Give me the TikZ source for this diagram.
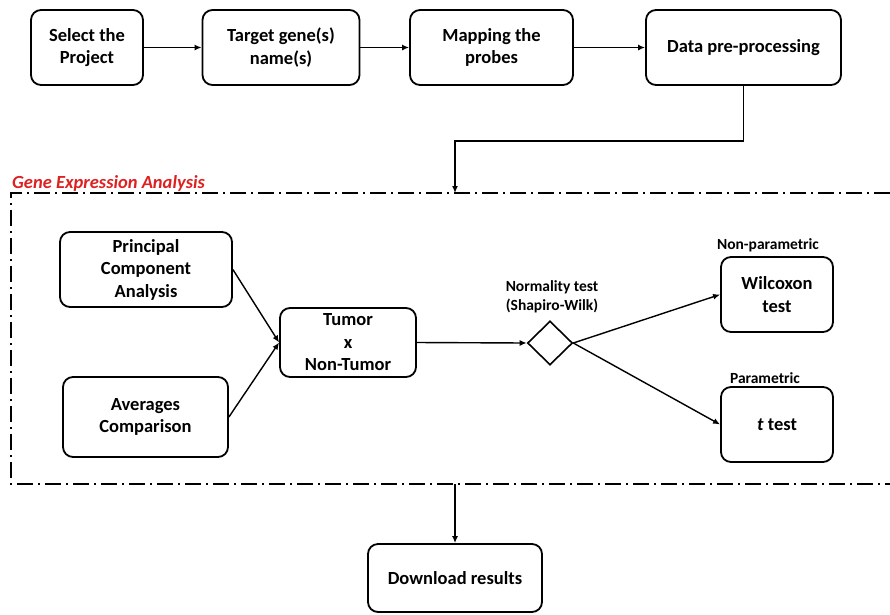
\documentclass[tikz,border=0pt]{standalone}
\usepackage{fontspec}
\setmainfont{Carlito}
\usetikzlibrary{arrows.meta,shapes.geometric}
\definecolor{geared}{RGB}{222,32,32}
\tikzset{
  blk/.style={draw,line width=1.8pt,rounded corners=10pt,align=center,inner sep=0pt,
    font=\bfseries\fontsize{18.5}{22.5}\selectfont},
  arr/.style={line width=1.4pt,-{Latex[length=7pt,width=6pt]}},
  lbl/.style={align=center,inner sep=0pt,font=\bfseries\fontsize{15.5}{19}\selectfont},
  frm/.style={line width=1.4pt,dash pattern=on 16pt off 5pt on 2pt off 5pt}
}

\begin{document}
\begin{tikzpicture}[x=1pt,y=-1pt]
\useasboundingbox (0,0) rectangle (890,614);
% top row
\node[blk,minimum width=112pt,minimum height=75pt] (sel) at (87,47.5) {Select the\\Project};
\node[blk,minimum width=157pt,minimum height=75pt] (tgt) at (281,47.5) {Target gene(s)\\name(s)};
\node[blk,minimum width=163pt,minimum height=75pt] (map) at (491.5,47.5) {Mapping the\\probes};
\node[blk,minimum width=195pt,minimum height=75pt] (pre) at (743.5,47.5) {Data pre-processing};
\draw[arr] (sel.east) -- (tgt.west);
\draw[arr] (tgt.east) -- (map.west);
\draw[arr] (map.east) -- (pre.west);
% analysis frame
\draw[frm] (890,193) -- (11,193) -- (11,484) -- (890,484);
\node[anchor=west,inner sep=0pt,text=geared,font=\bfseries\itshape\fontsize{18.5}{20}\selectfont] (gea) at (12,183) {Gene Expression Analysis};
\coordinate (ftop) at (455,193);
\coordinate (fbot) at (455,484);
\draw[arr] (pre.south) -- ++(0,55) -| (ftop);
% inside
\node[blk,minimum width=172pt,minimum height=75pt] (pca) at (146,269.5) {Principal\\Component\\Analysis};
\node[blk,minimum width=165pt,minimum height=80pt] (avg) at (145.5,417) {Averages\\Comparison};
\node[blk,minimum width=136pt,minimum height=69pt] (tum) at (348,342.5) {Tumor\\x\\Non-Tumor};
\node[diamond,draw,line width=1.6pt,aspect=1,minimum width=45pt,minimum height=44pt,inner sep=0pt] (nrm) at (550,343) {};
\node[lbl] (nrml) at (552,297) {Normality test\\(Shapiro-Wilk)};
\node[blk,minimum width=112pt,minimum height=75pt] (wil) at (777,294.5) {Wilcoxon\\test};
\node[blk,minimum width=112pt,minimum height=75pt] (tt) at (777,424.5) {\textit{t} test};
\node[lbl] (npl) at (768,245) {Non-parametric};
\node[lbl] (pl) at (765,378) {Parametric};
\draw[arr] (pca.east) -- (tum.west);
\draw[arr] (avg.east) -- (tum.west);
\draw[arr] (tum.east) -- (nrm.west);
\draw[arr] (nrm.east) -- (wil.west);
\draw[arr] (nrm.east) -- (tt.west);
% result
\node[blk,minimum width=174pt,minimum height=68pt] (dl) at (455,578) {Download results};
\draw[arr] (fbot) -- (dl.north);
\end{tikzpicture}
\end{document}
